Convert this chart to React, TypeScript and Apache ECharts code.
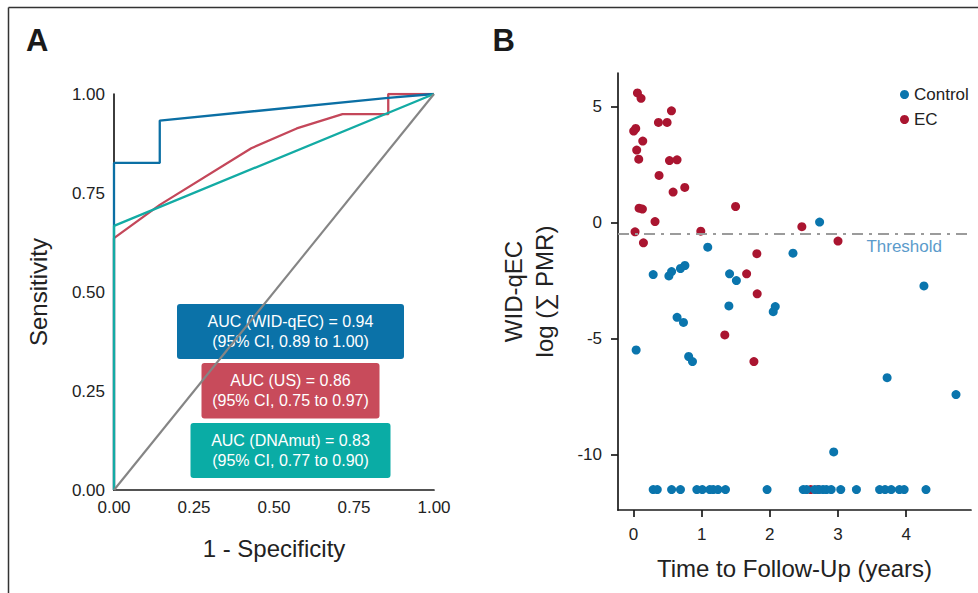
import React, { useEffect, useRef } from "react";
import * as echarts from "echarts";

// ---------- Panel A: ROC curves ----------
const widFpr = [0, 0, 0.143, 0.143, 0.857, 1];
const widTpr = [0, 0.826, 0.826, 0.933, 0.99, 1];
const usFpr = [0, 0, 0.143, 0.429, 0.571, 0.714, 0.857, 0.857, 1];
const usTpr = [0, 0.636, 0.72, 0.863, 0.913, 0.949, 0.949, 1, 1];
const dnaFpr = [0, 0, 1];
const dnaTpr = [0, 0.667, 1];
const refFpr = [0, 1];
const refTpr = [0, 1];

const aucLabels = [
  "AUC (WID-qEC) = 0.94\n(95% CI, 0.89 to 1.00)",
  "AUC (US) = 0.86\n(95% CI, 0.75 to 0.97)",
  "AUC (DNAmut) = 0.83\n(95% CI, 0.77 to 0.90)",
];

// ---------- Panel B: scatter ----------
const controlX = [
  2.73, 1.09, 2.34, 0.29, 0.52, 0.56, 0.69, 0.755, 1.41, 1.51, 4.26, 1.4, 2.05, 2.08,
  0.64, 0.734, 0.04, 0.81, 0.866, 3.72, 4.73, 2.937,
  0.29, 0.35, 0.56, 0.69, 0.93, 1.01, 1.12, 1.17, 1.24, 1.35, 1.96, 2.49, 2.54, 2.66,
  2.72, 2.78, 2.83, 2.9, 3.04, 3.27, 3.61, 3.69, 3.78, 3.9, 3.97, 4.29,
];
const controlY = [
  0.02, -1.06, -1.32, -2.24, -2.3, -2.11, -1.98, -1.85, -2.21, -2.5, -2.73, -3.59, -3.84, -3.62,
  -4.08, -4.3, -5.49, -5.77, -5.99, -6.68, -7.41, -9.88,
  -11.5, -11.5, -11.5, -11.5, -11.5, -11.5, -11.5, -11.5, -11.5, -11.5, -11.5, -11.5, -11.5, -11.5,
  -11.5, -11.5, -11.5, -11.5, -11.5, -11.5, -11.5, -11.5, -11.5, -11.5, -11.5, -11.5,
];
const ecX = [
  0.059, 0.112, 0.558, 0.367, 0.494, 0.034, 0.004, 0.137, 0.048, 0.078, 0.529, 0.64, 0.376,
  0.753, 0.582, 0.083, 0.132, 1.498, 0.317, 0.024, 0.988, 0.147, 1.81, 2.47, 3.0, 1.66,
  1.815, 1.34, 1.767, 2.6, 2.71,
];
const ecY = [
  5.58, 5.35, 4.81, 4.31, 4.31, 4.05, 3.94, 3.51, 3.12, 2.73, 2.67, 2.7, 2.03,
  1.51, 1.31, 0.62, 0.58, 0.69, 0.04, -0.4, -0.37, -0.875, -1.34, -0.18, -0.8, -2.21,
  -3.07, -4.84, -5.99, -11.5, -11.5,
];
const threshold = -0.5;
const timeTicks = [0, 1, 2, 3, 4];
const pmrTicks = [-10, -5, 0, 5];

const zip = (a: number[], b: number[]) => a.map((v, i) => [v, b[i]]);

const FONT = "'Liberation Sans', Arial, sans-serif";
const INK = "#222";

export default function App() {
  const ref = useRef<HTMLDivElement>(null);
  useEffect(() => {
    if (!ref.current) return;
    const chart = echarts.init(ref.current, null, { renderer: "svg" });
    const axisLine = { show: true, onZero: false, lineStyle: { color: "#1a1a1a", width: 1.7 } };
    const box = (x: number, y: number, w: number, h: number, fill: string, text: string) => ({
      type: "group",
      children: [
        { type: "rect", shape: { x, y, width: w, height: h, r: 3 }, style: { fill } },
        {
          type: "text",
          x: x + w / 2,
          y: y + h / 2,
          style: {
            text,
            fill: "#fff",
            font: `16px ${FONT}`,
            align: "center",
            verticalAlign: "middle",
            lineHeight: 20,
          },
        },
      ],
    });
    const option: any = {
      animation: false,
      textStyle: { fontFamily: FONT },
      grid: [
        { left: 114, top: 94, width: 320, height: 396 },
        { left: 618, top: 73, width: 353, height: 437 },
      ],
      xAxis: [
        {
          gridIndex: 0,
          type: "value",
          min: 0,
          max: 1,
          interval: 0.25,
          axisLine,
          axisTick: { show: false },
          splitLine: { show: false },
          axisLabel: { formatter: (v: number) => v.toFixed(2), fontSize: 17, color: INK, margin: 9 },
          name: "1 - Specificity",
          nameLocation: "middle",
          nameGap: 46,
          nameTextStyle: { fontSize: 24, color: INK },
        },
        {
          gridIndex: 1,
          type: "value",
          min: -0.226,
          max: 4.95,
          axisLine,
          axisTick: { show: true, length: 7, customValues: timeTicks, lineStyle: { color: "#1a1a1a", width: 1.7 } },
          splitLine: { show: false },
          axisLabel: { customValues: timeTicks, fontSize: 17, color: INK, margin: 16 },
          name: "Time to Follow-Up (years)",
          nameLocation: "middle",
          nameGap: 46,
          nameTextStyle: { fontSize: 24, color: INK },
        },
      ],
      yAxis: [
        {
          gridIndex: 0,
          type: "value",
          min: 0,
          max: 1,
          interval: 0.25,
          axisLine,
          axisTick: { show: false },
          splitLine: { show: false },
          axisLabel: { formatter: (v: number) => v.toFixed(2), fontSize: 17, color: INK, margin: 9 },
          name: "Sensitivity",
          nameLocation: "middle",
          nameGap: 64,
          nameTextStyle: { fontSize: 24, color: INK },
        },
        {
          gridIndex: 1,
          type: "value",
          min: -12.38,
          max: 6.44,
          axisLine,
          axisTick: { show: true, length: 7, customValues: pmrTicks, lineStyle: { color: "#1a1a1a", width: 1.7 } },
          splitLine: { show: false },
          axisLabel: { customValues: pmrTicks, fontSize: 17, color: INK, margin: 16 },
          name: "WID-qEC\nlog (∑ PMR)",
          nameLocation: "middle",
          nameGap: 58,
          nameTextStyle: { fontSize: 24, color: INK, lineHeight: 31 },
        },
      ],
      legend: {
        data: ["Control", "EC"],
        orient: "vertical",
        left: 895,
        top: 81,
        icon: "circle",
        itemWidth: 9,
        itemHeight: 9,
        itemGap: 8,
        textStyle: { fontSize: 17, color: INK, lineHeight: 17 },
      },
      series: [
        {
          type: "line",
          name: "US",
          xAxisIndex: 0,
          yAxisIndex: 0,
          data: zip(usFpr, usTpr),
          symbol: "none",
          lineStyle: { color: "#C4475A", width: 2.3 },
          z: 3,
        },
        {
          type: "line",
          name: "WID-qEC",
          xAxisIndex: 0,
          yAxisIndex: 0,
          data: zip(widFpr, widTpr),
          symbol: "none",
          lineStyle: { color: "#0B6FA4", width: 2.3 },
          z: 4,
        },
        {
          type: "line",
          name: "DNAmut",
          xAxisIndex: 0,
          yAxisIndex: 0,
          data: zip(dnaFpr, dnaTpr),
          symbol: "none",
          lineStyle: { color: "#13ABA4", width: 2.3 },
          z: 5,
        },
        {
          type: "line",
          name: "Reference",
          xAxisIndex: 0,
          yAxisIndex: 0,
          data: zip(refFpr, refTpr),
          symbol: "none",
          lineStyle: { color: "#858585", width: 2.1 },
          z: 6,
        },
        {
          type: "scatter",
          name: "EC",
          xAxisIndex: 1,
          yAxisIndex: 1,
          data: zip(ecX, ecY),
          symbolSize: 9,
          itemStyle: { color: "#AA1530", opacity: 1 },
          z: 3,
        },
        {
          type: "scatter",
          name: "Control",
          xAxisIndex: 1,
          yAxisIndex: 1,
          data: zip(controlX, controlY),
          symbolSize: 9,
          itemStyle: { color: "#0A75AD", opacity: 1 },
          z: 4,
          markLine: {
            silent: true,
            symbol: ["none", "none"],
            label: { show: false },
            lineStyle: { color: "#9b9b9b", width: 2.2, type: [11, 6, 3, 6] },
            data: [{ yAxis: threshold }],
          },
        },
      ],
      graphic: [
        { type: "line", shape: { x1: 8.5, y1: 7.5, x2: 978, y2: 7.5 }, style: { stroke: "#333", lineWidth: 1.5 } },
        { type: "line", shape: { x1: 8.5, y1: 7.5, x2: 8.5, y2: 593 }, style: { stroke: "#333", lineWidth: 1.5 } },
        { type: "text", x: 26, y: 40.5, style: { text: "A", font: `bold 31px ${FONT}`, fill: "#1a1a1a", verticalAlign: "middle" } },
        { type: "text", x: 492.5, y: 40.5, style: { text: "B", font: `bold 31px ${FONT}`, fill: "#1a1a1a", verticalAlign: "middle" } },
        box(177, 304, 227, 55, "#0B72A8", aucLabels[0]),
        box(201.5, 363, 178, 55.5, "#C84B5B", aucLabels[1]),
        box(190.5, 423, 200, 55, "#0AACA5", aucLabels[2]),
        {
          type: "text",
          x: 942,
          y: 246.5,
          style: { text: "Threshold", font: `17px ${FONT}`, fill: "#5B9BCB", align: "right", verticalAlign: "middle" },
        },
      ],
    };
    chart.setOption(option);
    return () => chart.dispose();
  }, []);
  return (
    <div
      ref={ref}
      style={{ position: "fixed", left: 0, top: 0, width: 978, height: 593, background: "#fff" }}
    />
  );
}
